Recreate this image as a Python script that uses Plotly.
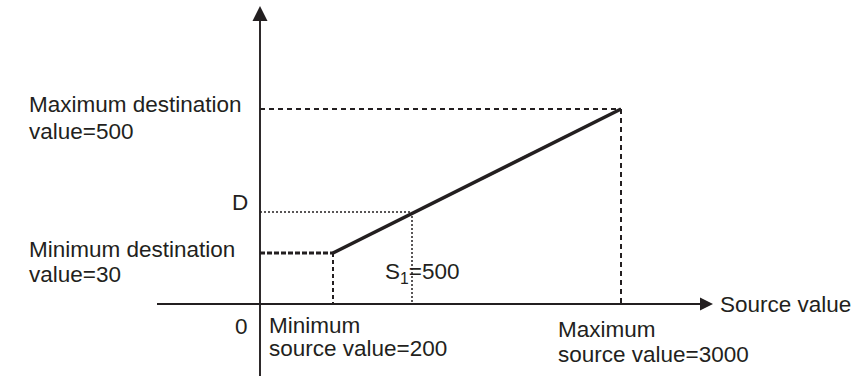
import plotly.graph_objects as go

# Schematic (not-to-scale) diagram coordinates, in diagram units
# Characteristic line: (minimum source, minimum destination) -> (maximum source, maximum destination)
line_x = [73, 361]
line_y = [51, 195]
s1_x = 152          # S1 = 500 position on the source axis
d_y = 92            # resulting D position on the destination axis

# Axis extents (diagram units)
x_axis_x = [-103, 440]
x_arrow_tip = 453
y_axis_y = [-72, 284]
y_arrow_tip = 298

ink = "#231f20"
font_family = "Liberation Sans, Arial, sans-serif"

fig = go.Figure()

def seg(xs, ys, width, dash="solid"):
    fig.add_trace(go.Scatter(x=xs, y=ys, mode="lines",
                             line=dict(color=ink, width=width, dash=dash),
                             hoverinfo="skip", cliponaxis=False))

# guide lines
seg([0, line_x[1]], [line_y[1], line_y[1]], 2, "5px,4px")
seg([line_x[1], line_x[1]], [line_y[1], 0], 2, "5px,4px")
seg([0, line_x[0]], [line_y[0], line_y[0]], 3, "5px,2px")
seg([line_x[0], line_x[0]], [line_y[0], 0], 2, "4px,3px")
seg([0, s1_x], [d_y, d_y], 1.5, "2px,2px")
seg([s1_x, s1_x], [d_y, 0], 1.5, "2px,2px")

# characteristic line
seg(line_x, line_y, 3.6)

# axes
seg(x_axis_x, [0, 0], 1.9)
seg([0, 0], y_axis_y, 1.9)
fig.add_trace(go.Scatter(x=[x_arrow_tip], y=[0], mode="markers", cliponaxis=False,
                         marker=dict(symbol="arrow-right", size=13, color=ink, line=dict(width=0)),
                         hoverinfo="skip"))
fig.add_trace(go.Scatter(x=[0], y=[y_arrow_tip], mode="markers", cliponaxis=False,
                         marker=dict(symbol="arrow-up", size=15, color=ink, line=dict(width=0)),
                         hoverinfo="skip"))

labels = [
    ("Maximum destination", -233, 200),
    ("value=500", -233, 173),
    ("D", -30, 102),
    ("Minimum destination", -233, 55),
    ("value=30", -233, 30),
    ("0", -27, -22),
    ("Minimum", 7, -21),
    ("source value=200", 7, -44),
    ("Maximum", 296, -25),
    ("source value=3000", 296, -50),
    ("Source value", 458, 0),
    ("S<sub>1</sub>=500", 123, 31),
]
for txt, x, y in labels:
    fig.add_annotation(x=x, y=y, text=txt, showarrow=False,
                       xanchor="left", yanchor="middle",
                       font=dict(family=font_family, size=22.5, color=ink))

fig.update_layout(
    width=862, height=378,
    margin=dict(l=0, r=0, t=0, b=0),
    paper_bgcolor="white", plot_bgcolor="white",
    showlegend=False,
    xaxis=dict(visible=False, range=[-260, 602], fixedrange=True),
    yaxis=dict(visible=False, range=[-74, 304], fixedrange=True),
)

fig.write_html("out.html", config={"displayModeBar": False},
               post_script="document.body.style.margin='0';document.body.style.overflow='hidden';")
